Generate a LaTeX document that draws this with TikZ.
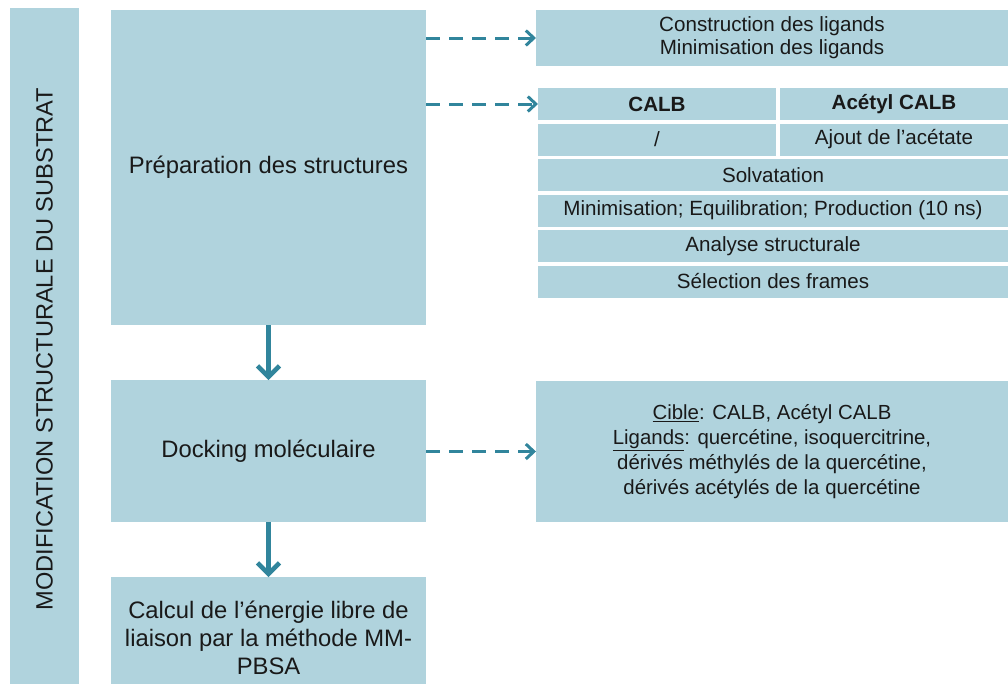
\documentclass[tikz,border=0pt]{standalone}
\usepackage{fontspec}
\setmainfont{Liberation Sans}
\usetikzlibrary{arrows.meta,positioning}
\definecolor{boxblue}{HTML}{B0D3DD}
\definecolor{arrteal}{HTML}{31859C}

\begin{document}
\begin{tikzpicture}[x=1pt,y=-1pt, node distance=55pt, box/.style={fill=boxblue,align=center,inner sep=0pt,outer sep=0pt,text=black!90}, bigbox/.style={box,minimum width=315pt,font=\fontsize{23.8}{28}\selectfont}, cell/.style={box,minimum height=32pt,font=\fontsize{20.6}{23}\selectfont}, arr/.style={-{Straight Barb[length=11pt,width=22pt]},line width=4.5pt,draw=arrteal}, darr/.style={-{Straight Barb[length=8pt,width=15pt]},line width=3pt,draw=arrteal,dash pattern=on 14pt off 9pt}]
\useasboundingbox (0,0) rectangle (1008,683);
% left column
\node[box,minimum width=69pt,minimum height=682pt,anchor=north west] (side) at (10,8) {};
\node[rotate=90,font=\fontsize{23.6}{26}\selectfont,text=black!90] (sidetxt) at (side.center) {MODIFICATION STRUCTURALE DU SUBSTRAT};
\node[bigbox,minimum height=315pt,anchor=north west] (prep) at (111,10) {Préparation des structures};
\node[bigbox,minimum height=142pt,below=of prep] (dock) {Docking moléculaire};
\node[bigbox,minimum height=122pt,below=of dock] (mmpbsa) {Calcul de l’énergie libre de\\liaison par la méthode MM-\\PBSA};
% right column
\node[cell,minimum width=472pt,minimum height=56pt,anchor=north west] (ligs) at (536,10) {Construction des ligands\\Minimisation des ligands};
\node[cell,minimum width=238pt,anchor=north west,font=\fontsize{20.6}{23}\selectfont\bfseries] (calb) at (538,88) {CALB};
\node[cell,minimum width=228pt,right=4pt of calb,font=\fontsize{20.6}{23}\selectfont\bfseries] (acalb) {Acétyl CALB};
\node[cell,minimum width=238pt,below=3.5pt of calb] (slash) {/};
\node[cell,minimum width=228pt,below=3.5pt of acalb] (ajout) {Ajout de l’acétate};
\node[cell,minimum width=470pt,below=3.5pt of slash.south west,anchor=north west] (solv) {Solvatation};
\node[cell,minimum width=470pt,below=3.5pt of solv] (dyn) {Minimisation; Equilibration; Production (10 ns)};
\node[cell,minimum width=470pt,below=3.5pt of dyn] (anal) {Analyse structurale};
\node[cell,minimum width=470pt,below=3.5pt of anal] (frames) {Sélection des frames};
\node[cell,minimum width=472pt,minimum height=141pt,anchor=north west,font=\fontsize{20.4}{25}\selectfont] (cible) at (536,381) {\underline{Cible}: CALB, Acétyl CALB\\\underline{Ligands}: quercétine, isoquercitrine,\\dérivés méthylés de la quercétine,\\dérivés acétylés de la quercétine};
% arrows
\draw[arr] (prep) -- (dock);
\draw[arr] (dock) -- (mmpbsa);
\draw[darr] (prep.east |- ligs.west) -- (ligs.west);
\draw[darr] (prep.east |- calb.west) -- (calb.west);
\draw[darr] (dock.east |- cible.west) -- (cible.west);
\end{tikzpicture}
\end{document}
